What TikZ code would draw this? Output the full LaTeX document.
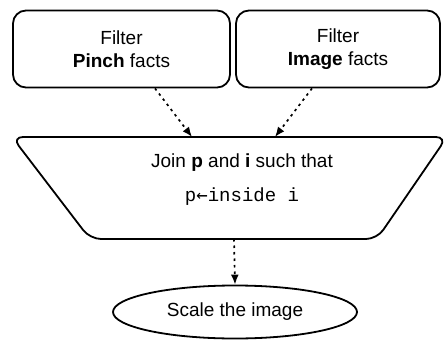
\documentclass[tikz,border=0pt]{standalone}
\usepackage{fontspec}
\setmainfont{Liberation Sans}
\setmonofont{Liberation Mono}
\newfontfamily\arrowfont{DejaVu Sans Mono}
\usetikzlibrary{shapes.geometric,arrows.meta}
\begin{document}
\begin{tikzpicture}[x=1pt,y=-1pt,
                    font=\fontsize{19}{23}\selectfont,
                    filterbox/.style={draw, line width=1.8pt, rounded corners=13pt, align=center},
                    flow/.style={line width=1.7pt, dash pattern=on 2.5pt off 4pt, -{Latex[length=10pt,width=8pt]}}]
  \useasboundingbox (0,0) rectangle (444,340);
  \node[filterbox, minimum width=217pt, minimum height=77pt] (pinch) at (121.5,49) {Filter\\\textbf{Pinch} facts};
  \node[filterbox, minimum width=204pt, minimum height=77pt] (image) at (338,49) {Filter\\\textbf{Image} facts};
  % join step
  \draw[line width=1.8pt, rounded corners=11pt] (12,137) -- (447,137) -- (377,239) -- (90,239) -- cycle;
  \node (join) at (242,163) {Join \textbf{p} and \textbf{i} such that};
  \node[font=\fontsize{19}{23}\ttfamily] (cond) at (242,197) {p{\arrowfont ←}inside i};
  \coordinate (joinL) at (192,137);
  \coordinate (joinR) at (275,137);
  \coordinate (joinB) at (234,239);
  \node[draw, ellipse, line width=1.8pt, minimum width=244pt, minimum height=53pt] (scale) at (235,312) {Scale the image};
  \draw[flow] ([xshift=33.5pt]pinch.south) -- (joinL);
  \draw[flow] ([xshift=-26pt]image.south) -- (joinR);
  \draw[flow] (joinB) -- (scale.north);
\end{tikzpicture}
\end{document}
